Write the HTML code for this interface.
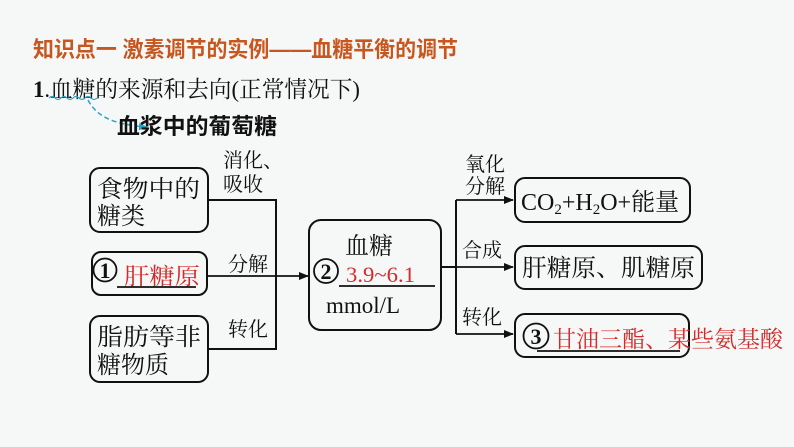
<!DOCTYPE html>
<html><head><meta charset="utf-8">
<style>
html,body{margin:0;padding:0;background:#f6f8f7;}
svg{display:block;}
.s{font-family:"Liberation Serif","Noto Serif CJK SC",serif;}
.h{font-family:"Liberation Sans","Noto Sans CJK SC",sans-serif;}
</style></head><body>
<svg width="794" height="447" viewBox="0 0 794 447" xmlns="http://www.w3.org/2000/svg">
<defs><marker id="a" markerWidth="10" markerHeight="8" refX="9" refY="4" orient="auto" markerUnits="userSpaceOnUse"><path d="M0,0 L10,4 L0,8 Z" fill="#111"/></marker>
<marker id="c" markerWidth="8" markerHeight="8" refX="7" refY="4" orient="auto" markerUnits="userSpaceOnUse"><path d="M0,0 L8,4 L0,8 Z" fill="#2aa3c8"/></marker></defs>
<rect width="794" height="447" fill="#f6f8f7"/>
<text class="h" x="33" y="57" font-size="22" font-weight="bold" fill="#c8571f" textLength="425" lengthAdjust="spacingAndGlyphs">知识点一  激素调节的实例——血糖平衡的调节</text>
<text class="s" x="33" y="97" font-size="23" fill="#111" textLength="327" lengthAdjust="spacingAndGlyphs"><tspan font-weight="bold">1</tspan>.血糖的来源和去向(正常情况下)</text>
<path d="M49,98 q3,-3 6,0 t6,0 t6,0 t6,0 t6,0 t6,0 t6,0 t6,0" fill="none" stroke="#2aa3c8" stroke-width="1.2"/>
<path d="M88,100 C96,115 110,124 146,127" fill="none" stroke="#2aa3c8" stroke-width="1.5" stroke-dasharray="5,3" marker-end="url(#c)"/>
<text class="h" x="117" y="134" font-size="22" fill="#111" font-weight="bold" textLength="160" lengthAdjust="spacingAndGlyphs">血浆中的葡萄糖</text>
<g fill="none" stroke="#111" stroke-width="2">
<rect x="90" y="168" width="118" height="64" rx="10"/>
<rect x="92" y="252" width="115" height="43" rx="9"/>
<rect x="90" y="316" width="118" height="66" rx="10"/>
<rect x="309" y="220" width="132" height="110" rx="12"/>
<rect x="515" y="178" width="175" height="44" rx="10"/>
<rect x="515" y="246" width="187" height="43" rx="10"/>
<rect x="515" y="314" width="174" height="43" rx="10"/>
<path d="M208,200 H276 V349 H208"/>
<path d="M441,267 H456"/>
<path d="M456,200 V334"/>
<circle cx="105" cy="270" r="11.5" stroke-width="1.8"/>
<circle cx="326" cy="271" r="12" stroke-width="1.8"/>
<circle cx="536" cy="336" r="12.5" stroke-width="1.8"/>
</g>
<g stroke="#111" stroke-width="1.8" fill="none">
<path d="M207,276 H308" marker-end="url(#a)"/>
<path d="M456,200 H513" marker-end="url(#a)"/>
<path d="M456,267 H513" marker-end="url(#a)"/>
<path d="M456,334 H513" marker-end="url(#a)"/>
</g>
<g class="s" font-size="24" fill="#111">
<text x="97" y="197" textLength="103" lengthAdjust="spacingAndGlyphs">食物中的</text>
<text x="97" y="224">糖类</text>
<text x="97" y="345" textLength="104" lengthAdjust="spacingAndGlyphs">脂肪等非</text>
<text x="97" y="373">糖物质</text>
<text x="345" y="254">血糖</text>
<text x="326" y="313" font-size="23">mmol/L</text>
<text x="521" y="210">CO<tspan font-size="15" dy="4">2</tspan><tspan dy="-4">+H</tspan><tspan font-size="15" dy="4">2</tspan><tspan dy="-4">O+能量</tspan></text>
<text x="522" y="276" textLength="173" lengthAdjust="spacingAndGlyphs">肝糖原、肌糖原</text>
</g>
<g class="s" font-size="22" fill="#111" text-anchor="middle" font-weight="bold">
<text x="105" y="278">1</text>
<text x="326" y="279">2</text>
<text x="536" y="344">3</text>
</g>
<g class="s" font-size="20" fill="#111">
<text x="223" y="167">消化、</text>
<text x="223" y="191">吸收</text>
<text x="228" y="271">分解</text>
<text x="228" y="336">转化</text>
<text x="465" y="171">氧化</text>
<text x="465" y="193">分解</text>
<text x="462" y="257">合成</text>
<text x="462" y="324">转化</text>
</g>
<g class="s" font-size="23" fill="#d42a2a">
<text x="124" y="284" textLength="76" lengthAdjust="spacingAndGlyphs">肝糖原</text>
<text x="346" y="282" font-size="22" textLength="69" lengthAdjust="spacingAndGlyphs">3.9~6.1</text>
<text x="553" y="347" textLength="230" lengthAdjust="spacingAndGlyphs">甘油三酯、某些氨基酸</text>
</g>
<g stroke="#111" stroke-width="1.8">
<path d="M117,287 H196"/>
<path d="M339,286 H435"/>
<path d="M537,351 H680"/>
</g>
</svg>
</body></html>
